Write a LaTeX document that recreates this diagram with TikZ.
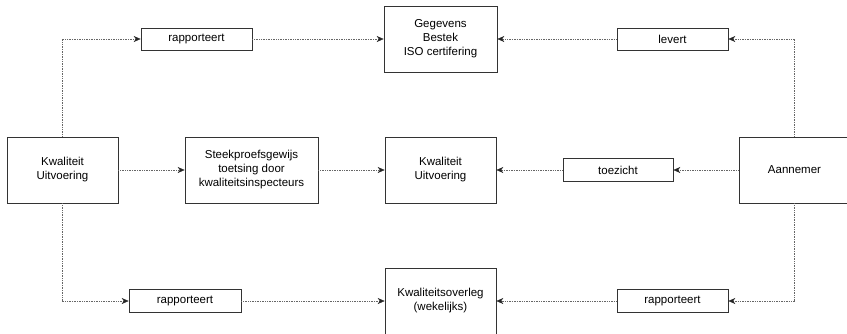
\documentclass[tikz,border=0pt]{standalone}
\usepackage{fontspec}
\setmainfont{Liberation Sans}
\usetikzlibrary{arrows.meta}
\begin{document}
\begin{tikzpicture}[x=1pt,y=-1pt,
  box/.style={draw=black!80, line width=0.7pt, fill=white, align=center,
    inner sep=0pt, font=\fontsize{11.5}{14}\selectfont},
  bigbox/.style={box, minimum width=111pt, minimum height=66pt},
  labbox/.style={box, minimum width=111pt, minimum height=22pt},
  link/.style={draw=black!60, line width=0.6pt, dash pattern=on 1pt off 0.7pt,
    -{Stealth[length=7pt,width=6pt,color=black!85,line width=0.4pt]}}
]
\useasboundingbox (0,0) rectangle (847,333);
\fill[white] (0,0) rectangle (847,333);

% left column
\node[bigbox] (kwl) at (62.5,170) {Kwaliteit\\Uitvoering};
% top row
\node[labbox] (raptop) at (196.5,39) {rapporteert};
\node[bigbox, minimum width=113pt] (geg) at (440.5,39) {Gegevens\\Bestek\\ISO certifering};
\node[labbox] (lev) at (672.5,39) {levert};
% middle row
\node[bigbox, minimum width=133pt] (steek) at (251.5,170) {Steekproefsgewijs\\toetsing door\\kwaliteitsinspecteurs};
\node[bigbox] (kwm) at (440.5,170) {Kwaliteit\\Uitvoering};
\node[labbox, minimum width=110pt, minimum height=23pt] (toez) at (618,170) {toezicht};
\node[bigbox] (aan) at (794.5,170) {Aannemer};
% bottom row
\node[labbox, minimum width=112pt, minimum height=23pt] (rapbl) at (185,301) {rapporteert};
\node[bigbox] (ovl) at (440.5,301) {Kwaliteitsoverleg\\(wekelijks)};
\node[labbox, minimum height=23pt] (rapbr) at (672.5,301) {rapporteert};

% connectors
\draw[link] (kwl.north) |- (raptop.west);
\draw[link] (raptop.east) -- (geg.west);
\draw[link] (aan.north) |- (lev.east);
\draw[link] (lev.west) -- (geg.east);

\draw[link] (kwl.east) -- (steek.west);
\draw[link] (steek.east) -- (kwm.west);
\draw[link] (aan.west) -- (toez.east);
\draw[link] (toez.west) -- (kwm.east);

\draw[link] (kwl.south) |- (rapbl.west);
\draw[link] (rapbl.east) -- (ovl.west);
\draw[link] (aan.south) |- (rapbr.east);
\draw[link] (rapbr.west) -- (ovl.east);
\end{tikzpicture}
\end{document}
